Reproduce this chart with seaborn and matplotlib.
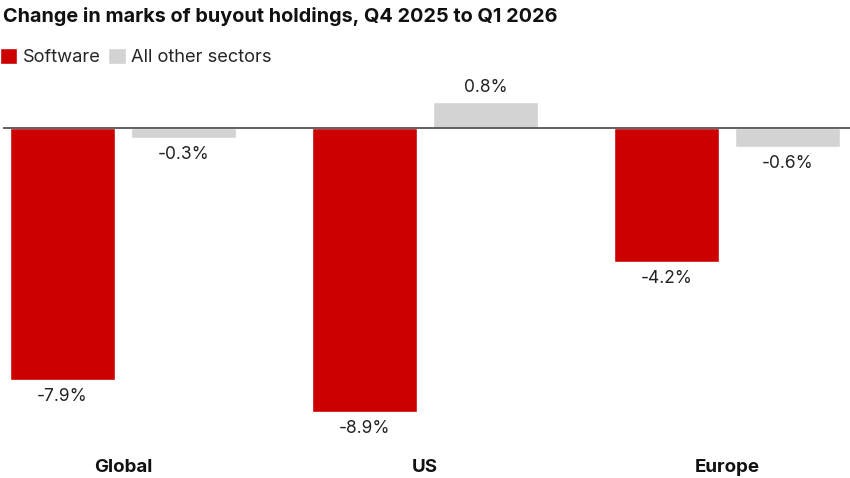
import pandas as pd
import seaborn as sns
import matplotlib.pyplot as plt

# data
regions = ["Global", "US", "Europe"]
software = [-7.9, -8.9, -4.2]
other = [-0.3, 0.8, -0.6]
series = ["Software", "All other sectors"]

df = pd.DataFrame({
    "region": regions * 2,
    "sector": [series[0]] * 3 + [series[1]] * 3,
    "change": software + other,
})

sns.set_theme(style="white")
plt.rcParams['font.family'] = ['Inter', 'DejaVu Sans']

fig = plt.figure(figsize=(8.5, 4.78), dpi=100)
ax = fig.add_axes([3 / 850, 0.1115, 847 / 850, 0.6875])

sns.barplot(data=df, x="region", y="change", hue="sector",
            palette=["#cc0000", "#d3d3d3"], gap=0.13, width=0.8,
            saturation=1, ax=ax)

ax.set_xlim(-0.397, 2.407)
ax.set_ylim(-9.3, 1.0)
ax.axhline(0, color="#555555", lw=1.3, zorder=3)

# value labels
for cont in ax.containers:
    for bar in cont:
        h = bar.get_height()
        xc = bar.get_x() + bar.get_width() / 2
        off = 11 if h > 0 else -12
        ax.annotate(f"{h:.1f}%", (xc, h), xytext=(0, off),
                    textcoords="offset points", ha="center", va="center",
                    fontsize=12.5, color="#222222")

for s in ax.spines.values():
    s.set_visible(False)
ax.set_yticks([])
ax.set_xlabel("")
ax.set_ylabel("")
ax.tick_params(axis="x", length=0, pad=25)
for lbl in ax.get_xticklabels():
    lbl.set_fontweight("bold")
    lbl.set_fontsize(13.5)
    lbl.set_color("#111111")

sns.move_legend(ax, "upper left", bbox_to_anchor=(-3 / 847, 1.147), ncol=2,
                frameon=False, title=None, fontsize=13.2, handlelength=0.95,
                handleheight=0.95, handletextpad=0.3, columnspacing=0.4,
                borderaxespad=0, borderpad=0)

fig.text(3 / 850, 1 - 17 / 478, "Change in marks of buyout holdings, Q4 2025 to Q1 2026",
         fontsize=14.3, fontweight="bold", va="center", ha="left", color="#111111")

fig.savefig("out.png", dpi=100)
